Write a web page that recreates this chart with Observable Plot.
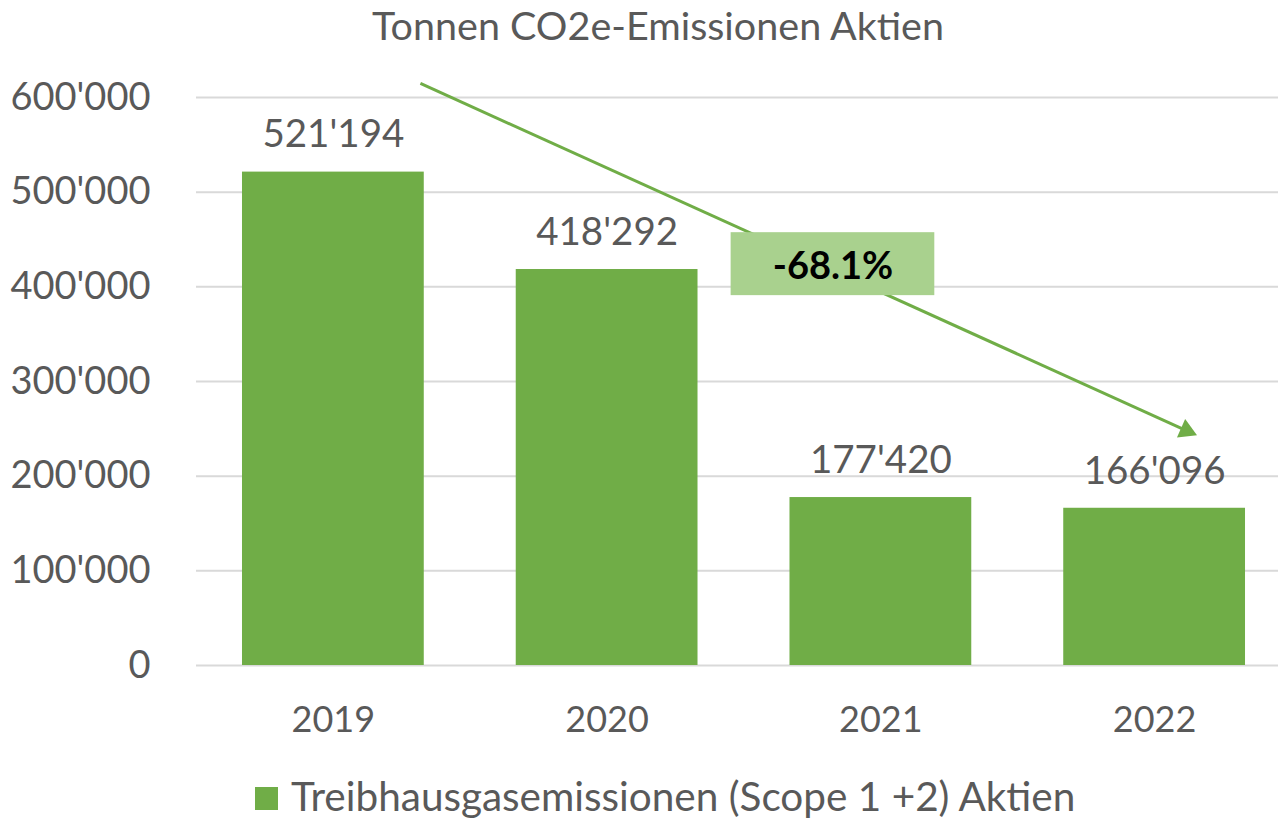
<!DOCTYPE html>
<html>
<head>
<meta charset="utf-8">
<script src="https://cdn.jsdelivr.net/npm/d3@7"></script>
<script src="https://cdn.jsdelivr.net/npm/@observablehq/plot@0.6"></script>
<style>
  html, body { margin: 0; padding: 0; background: #fff; }
  body { position: relative; width: 1278px; height: 821px; overflow: hidden; font-family: Lato, "Open Sans", sans-serif; color: #595959; }
  #title { position: absolute; left: 0; top: 5px; width: 1278px; padding-left: 38px; box-sizing: border-box; text-align: center; font-size: 39.5px; line-height: 39.5px; color: #595959; white-space: nowrap; }
  #chart { position: absolute; left: 0; top: 58px; }
  #legend { position: absolute; left: 255px; top: 776px; font-size: 40.5px; line-height: 40.5px; color: #595959; white-space: nowrap; }
  #legend .sw { position: absolute; left: 0; top: 11px; width: 23px; height: 23px; background: #70ad47; }
  #legend span { position: absolute; left: 36px; top: 0; }
</style>
</head>
<body>
<div id="title">Tonnen CO2e-Emissionen Aktien</div>
<div id="chart"></div>
<div id="legend"><div class="sw"></div><span>Treibhausgasemissionen (Scope 1 +2) Aktien</span></div>
<script>
// Data
const years = [2019, 2020, 2021, 2022];
const values = [521194, 418292, 177420, 166096];
const yTicks = [0, 100000, 200000, 300000, 400000, 500000, 600000];
const changeLabel = ["-68.1%"];
// annotation positions (in data units)
const arrowFrom = [{year: 2019.318, value: 614800}];
const arrowTo = [{year: 2022.116, value: 248200}];
const boxSpan = [{x1: 2020.453, x2: 2021.197, y1: 390700, y2: 457200, xc: 2020.825, yc: 421500}];

const data = years.map((y, i) => ({year: y, value: values[i]}));
const fmt = d => d3.format(",")(d).replace(/,/g, "'");
const half = 0.332;
const green = "#70ad47";

const chart = Plot.plot({
  width: 1278,
  height: 700,
  marginLeft: 196,
  marginRight: 0,
  marginTop: 39,
  marginBottom: 93,
  style: {fontFamily: "Lato, 'Open Sans', sans-serif", color: "#595959", background: "#fff"},
  x: {type: "linear", domain: [2018.5, 2022.5], range: [196, 1291]},
  y: {domain: [0, 600000]},
  marks: [
    Plot.ruleY(yTicks, {stroke: "#d9d9d9", strokeWidth: 2}),
    Plot.axisY({ticks: yTicks, tickFormat: fmt, tickSize: 0, tickPadding: 46, fontSize: 38, fill: "#595959", label: null}),
    Plot.axisX({ticks: years, tickFormat: d => String(d), tickSize: 0, tickPadding: 41, fontSize: 36, fill: "#595959", label: null}),
    Plot.rectY(data, {x1: d => d.year - half, x2: d => d.year + half, y: "value", fill: green}),
    Plot.text(data, {x: "year", y: "value", text: d => fmt(d.value), dy: -37, fontSize: 38.5, fill: "#595959", lineAnchor: "middle"}),
    Plot.link([0], {x1: () => arrowFrom[0].year, y1: () => arrowFrom[0].value, x2: () => arrowTo[0].year, y2: () => arrowTo[0].value, stroke: green, strokeWidth: 3}),
    Plot.dot(arrowTo, {x: "year", y: "value", symbol: "triangle", r: 7.5, fill: green, stroke: "none", rotate: 114}),
    Plot.rect(boxSpan, {x1: "x1", x2: "x2", y1: "y1", y2: "y2", fill: "#a9d18e"}),
    Plot.text(boxSpan, {x: "xc", y: "yc", text: () => changeLabel[0], fontSize: 38, fontWeight: "bold", fill: "#000", lineAnchor: "middle"})
  ]
});
document.getElementById("chart").appendChild(chart);
</script>
</body>
</html>
